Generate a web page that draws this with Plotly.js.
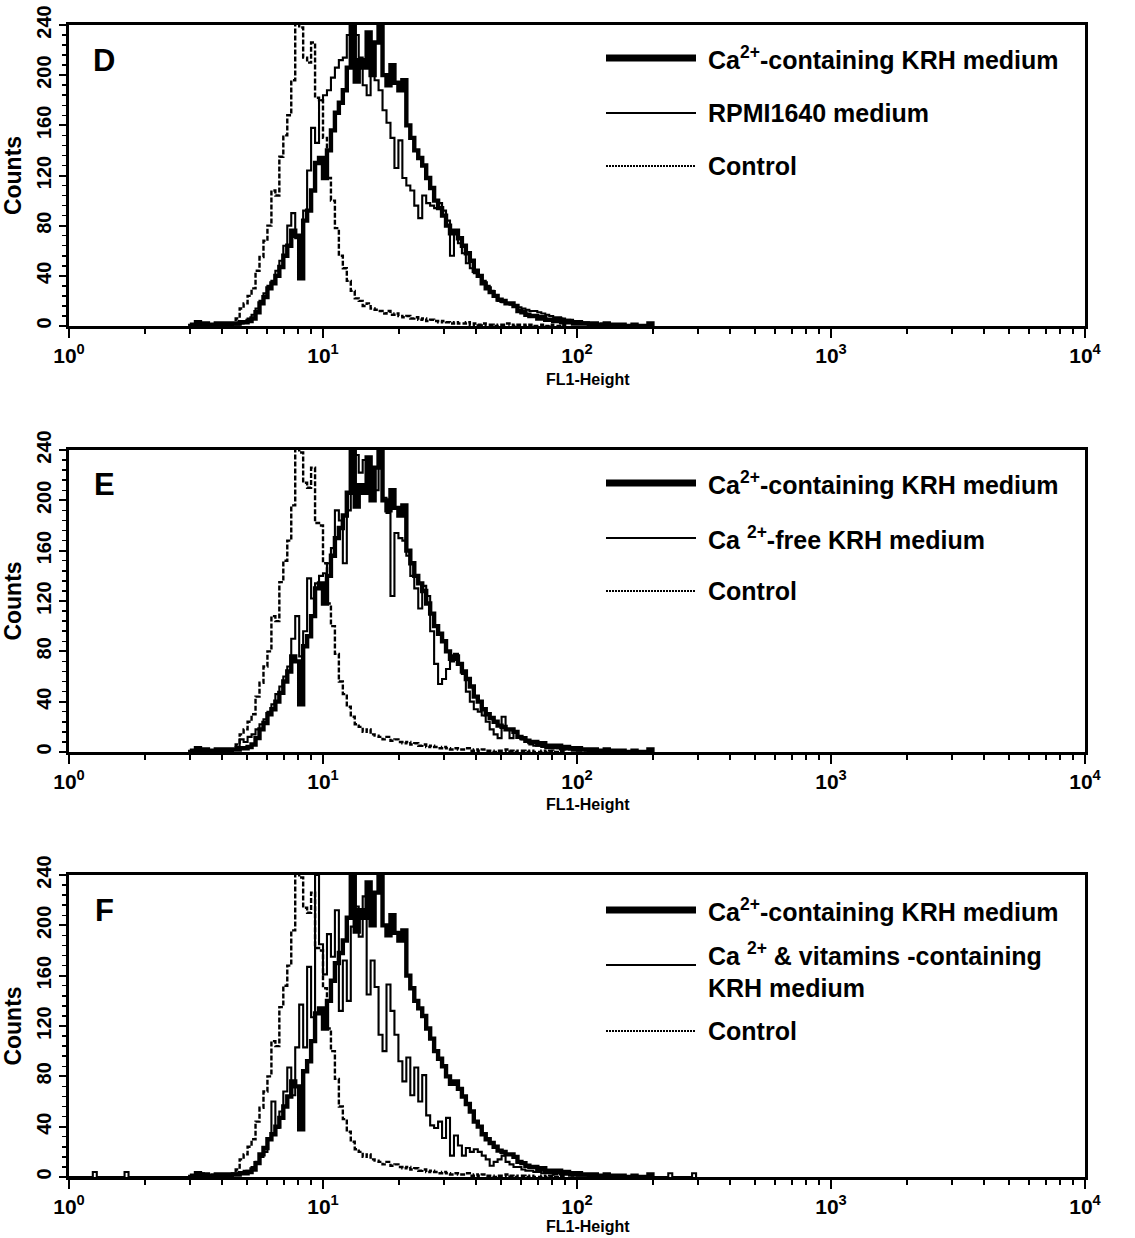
<!DOCTYPE html>
<html>
<head>
<meta charset="utf-8">
<script src="https://cdn.plot.ly/plotly-3.0.1.min.js"></script>
<style>html,body{margin:0;padding:0;background:#fff;}#chart{width:1135px;height:1238px;}</style>
</head>
<body>
<div id="chart"></div>
<script>
// ---- DATA (flow cytometry histograms, 256 log channels over 4 decades) ----
const CHANNELS_PER_DECADE = 64;
const panelLetters = ["D", "E", "F"];
const xTickVals = [1, 10, 100, 1000, 10000];
const xTickText = ["10<sup>0</sup>", "10<sup>1</sup>", "10<sup>2</sup>", "10<sup>3</sup>", "10<sup>4</sup>"];
const xTitle = "FL1-Height";
const yTitle = "Counts";

const krhLabel = "Ca<sup>2+</sup>-containing KRH medium";
const controlLabel = "Control";
const secondLabels = ["RPMI1640 medium", "Ca <sup>2+</sup>-free KRH medium", "Ca <sup>2+</sup> & vitamins -containing<br>KRH medium"];

// Control (unstained), starting at channel 38
const controlStart = 38;
const controlCounts = [0,1,1,2,6,14,18,24,30,44,55,68,80,108,104,135,152,168,196,250,238,214,210,226,182,180,150,118,100,78,56,46,36,28,22,20,16,18,14,13,12,10,12,9,10,8,7,8,6,7,5,6,4,5,4,3,4,3,2,3,2,2,3,1,2,1,2,1,1,0,1,1,2,1,0,1,1,0,1,0,0,1,0,1,0,0,1,0];

// Ca2+-containing KRH medium, starting at channel 30
const krhStart = 30;
const krhCounts = [0,1,3,1,2,1,1,2,1,2,1,2,2,3,3,4,6,11,18,23,30,34,40,47,56,64,76,72,38,84,92,108,130,134,118,140,156,170,178,188,206,248,195,212,206,234,200,226,248,200,192,208,194,188,196,160,150,140,134,128,118,110,100,94,88,80,74,76,70,64,58,52,44,40,34,30,27,24,21,20,18,18,16,12,11,9,8,8,6,7,5,5,4,5,3,4,3,2,3,2,2,1,2,1,1,2,1,0,1,1,0,0,1,0,0,0,2,0];

// RPMI1640 medium, starting at channel 40
const rpmiStart = 40;
const rpmiCounts = [0,1,1,2,4,6,9,14,20,26,32,36,44,52,64,80,90,70,60,92,124,158,146,180,184,188,198,206,212,214,232,224,232,214,192,184,206,196,188,172,162,150,126,148,118,112,108,96,86,104,98,96,94,98,92,84,56,74,66,58,50,46,42,40,36,32,28,24,20,19,18,17,16,15,14,13,12,12,11,10,9,8,7,7,6,5,5,4,4,3,3,2,2,1,2,1,1,0];

// Ca2+-free KRH medium, starting at channel 38
const caFreeStart = 38;
const caFreeCounts = [0,1,1,2,4,10,8,12,14,18,22,26,32,38,46,52,60,68,90,108,76,96,138,122,134,140,142,150,162,192,184,150,192,214,236,222,232,210,200,208,240,202,190,124,174,170,168,156,140,130,114,132,124,96,70,54,58,66,72,78,70,62,48,40,34,32,29,24,18,14,11,28,18,11,16,12,10,8,6,5,5,4,3,3,4,3,2,3,2,2,1,2,1,1,0];

// Ca2+ & vitamins-containing KRH medium, starting at channel 0
const vitStart = 0;
const vitCounts = [0,0,0,0,0,0,4,0,0,0,0,0,0,0,4,0,0,0,0,0,0,0,0,0,0,0,0,0,0,0,0,
  1,2,3,1,1,2,1,1,2,2,3,3,4,5,5,8,12,16,20,30,60,39,52,68,87,65,103,137,103,167,127,240,185,161,193,175,212,132,172,140,199,215,191,223,145,172,151,113,100,153,132,113,92,76,95,65,87,60,81,49,41,39,44,31,47,17,33,25,17,23,20,22,20,17,14,9,12,14,17,12,10,8,8,6,5,5,4,4,3,3,3,2,3,2,2,1,2,1,1,1,0,1,0,0,1,
  0,0,0,0,0,0,0,0,0,0,0,0,0,0,0,3,0,0,0,0,0,3,0];

// ---- BUILD ----
function channelX(start, n) {
  const xs = [];
  for (let k = 0; k < n; k++) xs.push(Math.pow(10, (start + k) / CHANNELS_PER_DECADE));
  return xs;
}
const minorVals = [];
for (let d = 0; d < 4; d++) for (let m = 2; m <= 9; m++) minorVals.push(m * Math.pow(10, d));

const W = 1135, H = 1238;
const px = v => v / W;
const py = v => 1 - v / H;
const xDomain = [px(69), px(1085)];
const panelTops = [25, 450, 875];
const panelBottoms = [326, 752, 1177];
const xTitleOffsets = [53, 52, 49];

const secondSeries = [
  {start: rpmiStart, counts: rpmiCounts},
  {start: caFreeStart, counts: caFreeCounts},
  {start: vitStart, counts: vitCounts}
];

const FONT = "Liberation Sans, Arial, Helvetica, sans-serif";
const traces = [];
const layout = {
  width: W, height: H,
  margin: {l: 0, r: 0, t: 0, b: 0},
  paper_bgcolor: "#fff", plot_bgcolor: "#fff",
  showlegend: false,
  font: {family: FONT, color: "#000"},
  annotations: [], shapes: []
};

for (let p = 0; p < 3; p++) {
  const sfx = p === 0 ? "" : String(p + 1);
  const xa = "x" + sfx, ya = "y" + sfx;
  const common = {xaxis: xa, yaxis: ya, type: "scatter", mode: "lines", hoverinfo: "skip"};
  traces.push(Object.assign({}, common, {
    x: channelX(controlStart, controlCounts.length), y: controlCounts,
    line: {color: "#000", width: 2.4, dash: "5px,2px", shape: "hv"}
  }));
  const s = secondSeries[p];
  traces.push(Object.assign({}, common, {
    x: channelX(s.start, s.counts.length), y: s.counts,
    line: {color: "#000", width: 2.1, shape: "hv"}
  }));
  traces.push(Object.assign({}, common, {
    x: channelX(krhStart, krhCounts.length), y: krhCounts,
    line: {color: "#000", width: 4.4, shape: "hv"}
  }));

  layout["xaxis" + sfx] = {
    domain: xDomain, anchor: ya, type: "log", range: [0, 4],
    tickmode: "array", tickvals: xTickVals, ticktext: xTickText,
    ticks: "outside", ticklen: 9, tickwidth: 2, tickcolor: "#000",
    minor: {tickmode: "array", tickvals: minorVals, ticks: "outside", ticklen: 5, tickwidth: 2, tickcolor: "#000"},
    tickfont: {size: 21, family: FONT, weight: "bold", color: "#000"},
    showline: true, mirror: true, linewidth: 3, linecolor: "#000",
    showgrid: false, zeroline: false
  };
  const top = panelTops[p], bot = panelBottoms[p];
  layout["yaxis" + sfx] = {
    domain: [py(bot), py(top)], anchor: xa, range: [0, 240],
    tickmode: "linear", tick0: 0, dtick: 40, tickangle: -90,
    ticks: "outside", ticklen: 7, tickwidth: 2, tickcolor: "#000",
    minor: {dtick: 8, ticks: "outside", ticklen: 4, tickwidth: 1.5, tickcolor: "#000"},
    tickfont: {size: 20, family: FONT, weight: "bold", color: "#000"},
    showline: true, mirror: true, linewidth: 3, linecolor: "#000",
    showgrid: false, zeroline: false,
    title: {text: yTitle, font: {size: 23, family: FONT, weight: "bold", color: "#000"}, standoff: 5}
  };

  // x axis title
  layout.annotations.push({xref: "paper", yref: "paper", x: px(588), y: py(bot + xTitleOffsets[p]),
    text: xTitle, showarrow: false, xanchor: "center", yanchor: "middle",
    font: {size: 16, family: FONT, weight: "bold", color: "#000"}});

  // panel letter
  layout.annotations.push({xref: "paper", yref: "paper", x: px(104), y: py(top + 35),
    text: panelLetters[p], showarrow: false, xanchor: "center", yanchor: "middle",
    font: {size: 31, family: FONT, weight: "bold", color: "#000"}});

  // custom legend
  const legendRows = p === 2 ? [top + 35, top + 90, top + 156] : [top + 33, top + 88, top + 141];
  const labels = [krhLabel, secondLabels[p], controlLabel];
  const lineStyles = [{width: 7, dash: "solid"}, {width: 1.8, dash: "solid"}, {width: 2, dash: "2px,1px"}];
  for (let r = 0; r < 3; r++) {
    layout.shapes.push({type: "line", xref: "paper", yref: "paper",
      x0: px(606), x1: px(696), y0: py(legendRows[r]), y1: py(legendRows[r]),
      line: {color: "#000", width: lineStyles[r].width, dash: lineStyles[r].dash}});
    layout.annotations.push({xref: "paper", yref: "paper", x: px(706),
      y: py(p === 2 && r === 1 ? legendRows[r] + 5 : legendRows[r]),
      text: labels[r], showarrow: false, xanchor: "left", yanchor: "middle", align: "left",
      font: {size: 25, family: FONT, weight: "bold", color: "#000"}});
  }
}

Plotly.newPlot("chart", traces, layout, {staticPlot: true, displayModeBar: false});
</script>
</body>
</html>
